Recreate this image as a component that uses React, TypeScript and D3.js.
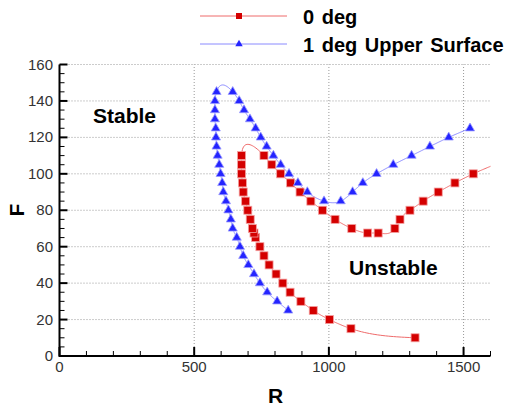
import React from "react";
import * as d3 from "d3";

// ---- data ----
const xTicks = [0, 500, 1000, 1500];
const yTicks = [0, 20, 40, 60, 80, 100, 120, 140, 160];

const seriesNames = ["0 deg", "1 deg Upper Surface"];

// 0 deg (red squares), ordered along the curve
const redR = [1320, 1082, 1002, 942, 896, 856, 829, 804, 778, 759, 744, 728, 722, 716, 708, 699, 691, 682, 679, 676, 676, 676,
  759, 788, 821, 858, 893, 933, 976, 1023, 1085, 1144, 1183, 1245, 1264, 1301, 1350, 1406, 1468, 1536, 1640];
const redF = [10, 15, 20, 25, 30, 35, 40, 45, 50, 55, 60, 65, 67.5, 70, 75, 80, 85, 90, 95, 100, 105, 110,
  110, 105, 100, 95, 90, 85, 80, 75, 70, 67.5, 67.5, 70, 75, 80, 85, 90, 95, 100, 106.5];

// 1 deg Upper Surface (blue triangles)
const blueR = [849, 808, 771, 744, 722, 701, 682, 670, 658, 643, 636, 627, 618, 608, 604, 598, 593, 587, 583, 581, 580, 577, 577, 577, 583,
  643, 667, 685, 707, 728, 747, 769, 794, 821, 852, 885, 920, 982, 1044, 1088, 1126, 1177, 1239, 1307, 1375, 1445, 1524];
const blueF = [25, 30, 35, 40, 45, 50, 55, 60, 65, 70, 75, 80, 85, 90, 95, 100, 105, 110, 115, 120, 125, 130, 135, 140, 145,
  145, 140, 135, 130, 125, 120, 115, 110, 105, 100, 95, 90, 85, 85, 90, 95, 100, 105, 110, 115, 120, 125];

const regionLabels = ["Stable", "Unstable"];

// ---- parametric natural cubic spline (weighted chord-length parameter) ----
function spline(xs: number[], ys: number[], kx = 0.45, per = 24): [number, number][] {
  const n = xs.length;
  const t: number[] = [0];
  for (let i = 1; i < n; i++) t.push(t[i - 1] + Math.hypot((xs[i] - xs[i - 1]) * kx, ys[i] - ys[i - 1]));
  const solve = (v: number[]) => {
    const M = new Array(n).fill(0);
    if (n < 3) return M;
    const a: number[] = [], b: number[] = [], c: number[] = [], d: number[] = [];
    for (let i = 1; i < n - 1; i++) {
      const h0 = t[i] - t[i - 1], h1 = t[i + 1] - t[i];
      a.push(h0); b.push(2 * (h0 + h1)); c.push(h1);
      d.push(6 * ((v[i + 1] - v[i]) / h1 - (v[i] - v[i - 1]) / h0));
    }
    const m = b.length;
    for (let i = 1; i < m; i++) {
      const w = a[i] / b[i - 1];
      b[i] -= w * c[i - 1];
      d[i] -= w * d[i - 1];
    }
    const sol = new Array(m).fill(0);
    sol[m - 1] = d[m - 1] / b[m - 1];
    for (let i = m - 2; i >= 0; i--) sol[i] = (d[i] - c[i] * sol[i + 1]) / b[i];
    for (let i = 0; i < m; i++) M[i + 1] = sol[i];
    return M;
  };
  const Mx = solve(xs), My = solve(ys);
  const out: [number, number][] = [];
  const ev = (v: number[], M: number[], i: number, tt: number) => {
    const h = t[i + 1] - t[i];
    const A = t[i + 1] - tt, B = tt - t[i];
    return (M[i] * A * A * A) / (6 * h) + (M[i + 1] * B * B * B) / (6 * h) +
      (v[i] / h - (M[i] * h) / 6) * A + (v[i + 1] / h - (M[i + 1] * h) / 6) * B;
  };
  for (let i = 0; i < n - 1; i++) {
    for (let k = 0; k < per; k++) {
      const tt = t[i] + ((t[i + 1] - t[i]) * k) / per;
      out.push([ev(xs, Mx, i, tt), ev(ys, My, i, tt)]);
    }
  }
  out.push([xs[n - 1], ys[n - 1]]);
  return out;
}

const W = 510, H = 407;
const FONT = "'Liberation Sans', Arial, sans-serif";

export default function App() {
  const x = d3.scaleLinear().domain([0, 1600]).range([59.5, 490.5]);
  const y = d3.scaleLinear().domain([0, 160]).range([356, 64.5]);

  const line = d3.line<[number, number]>().x((d) => x(d[0])).y((d) => y(d[1]));
  const redPath = line(spline(redR, redF)) || "";
  const bluePath = line(spline(blueR, blueF)) || "";

  const xMinor = d3.range(0, 1601, 100).filter((v) => v % 500 !== 0);
  const yMinor = d3.range(0, 161, 5).filter((v) => v % 20 !== 0);
  const tri = d3.symbol(d3.symbolTriangle, 36)() || "";
  const triSmall = d3.symbol(d3.symbolTriangle, 24)() || "";

  const redPts = redR.map((r, i) => [r, redF[i]]).filter((p) => p[0] <= 1600);
  const bluePts = blueR.map((r, i) => [r, blueF[i]]);

  return (
    <svg width={W} height={H} style={{ position: "absolute", left: 0, top: 0, background: "#fff" }} fontFamily={FONT}>
      <defs>
        <clipPath id="plot">
          <rect x={x(0)} y={y(160) - 10} width={x(1600) - x(0)} height={y(0) - y(160) + 10} />
        </clipPath>
      </defs>
      {/* grid */}
      {xTicks.filter((v) => v > 0).map((v) => (
        <line key={"gx" + v} x1={x(v)} x2={x(v)} y1={y(0)} y2={y(160)} stroke="#999" strokeWidth={1} strokeDasharray="1,2" />
      ))}
      {yTicks.filter((v) => v > 0).map((v) => (
        <line key={"gy" + v} x1={x(0)} x2={x(1600)} y1={y(v)} y2={y(v)} stroke="#999" strokeWidth={1} strokeDasharray="1,2" />
      ))}
      {/* curves */}
      <g clipPath="url(#plot)">
        <path d={redPath} fill="none" stroke="#ee6a6a" strokeWidth={1} />
        <path d={bluePath} fill="none" stroke="#8a8aff" strokeWidth={1} />
        {redPts.map((p, i) => (
          <rect key={"r" + i} x={x(p[0]) - 4} y={y(p[1]) - 4} width={8} height={8} fill="#d40000" stroke="#f4a0a0" strokeWidth={0.8} />
        ))}
        {bluePts.map((p, i) => (
          <path key={"b" + i} d={tri} transform={`translate(${x(p[0])},${y(p[1])})`} fill="#2424ff" stroke="#9a9aff" strokeWidth={0.8} />
        ))}
      </g>
      {/* axes */}
      <line x1={x(0)} x2={x(1600)} y1={y(0)} y2={y(0)} stroke="#000" strokeWidth={2} />
      <line x1={x(0)} x2={x(0)} y1={y(0) + 1} y2={y(160)} stroke="#000" strokeWidth={2} />
      {xTicks.map((v) => (
        <line key={"xt" + v} x1={x(v)} x2={x(v)} y1={y(0)} y2={y(0) - 9} stroke="#000" strokeWidth={2} />
      ))}
      {xMinor.map((v) => (
        <line key={"xm" + v} x1={x(v)} x2={x(v)} y1={y(0)} y2={y(0) - 5} stroke="#000" strokeWidth={1} />
      ))}
      {yTicks.map((v) => (
        <line key={"yt" + v} x1={x(0)} x2={x(0) + 8} y1={y(v)} y2={y(v)} stroke="#000" strokeWidth={2} />
      ))}
      {yMinor.map((v) => (
        <line key={"ym" + v} x1={x(0)} x2={x(0) + 5} y1={y(v)} y2={y(v)} stroke="#000" strokeWidth={1} />
      ))}
      {xTicks.map((v) => (
        <text key={"xl" + v} x={x(v)} y={372} textAnchor="middle" fontSize={15} fill="#333">{v}</text>
      ))}
      {yTicks.map((v) => (
        <text key={"yl" + v} x={53} y={y(v) + 5} textAnchor="end" fontSize={15} fill="#333">{v}</text>
      ))}
      {/* axis titles */}
      <text x={275.5} y={403} textAnchor="middle" fontSize={21} fontWeight="bold" fill="#000">R</text>
      <text transform={`translate(24,210) rotate(-90)`} textAnchor="middle" fontSize={21} fontWeight="bold" fill="#000">F</text>
      {/* region labels */}
      <text x={93} y={123} fontSize={21} fontWeight="bold" fill="#000">{regionLabels[0]}</text>
      <text x={349} y={275} fontSize={21} fontWeight="bold" fill="#000">{regionLabels[1]}</text>
      {/* legend */}
      <line x1={200} x2={287} y1={16} y2={16} stroke="#ee6a6a" strokeWidth={1} />
      <rect x={236} y={13} width={6} height={6} fill="#d40000" />
      <text x={303} y={24} fontSize={20} fontWeight="bold" fill="#000" wordSpacing={2}>{seriesNames[0]}</text>
      <line x1={200} x2={287} y1={44} y2={44} stroke="#8a8aff" strokeWidth={1} />
      <path d={triSmall} transform="translate(239,44)" fill="#2424ff" />
      <text x={303} y={52} fontSize={20} fontWeight="bold" fill="#000" wordSpacing={2}>{seriesNames[1]}</text>
    </svg>
  );
}
